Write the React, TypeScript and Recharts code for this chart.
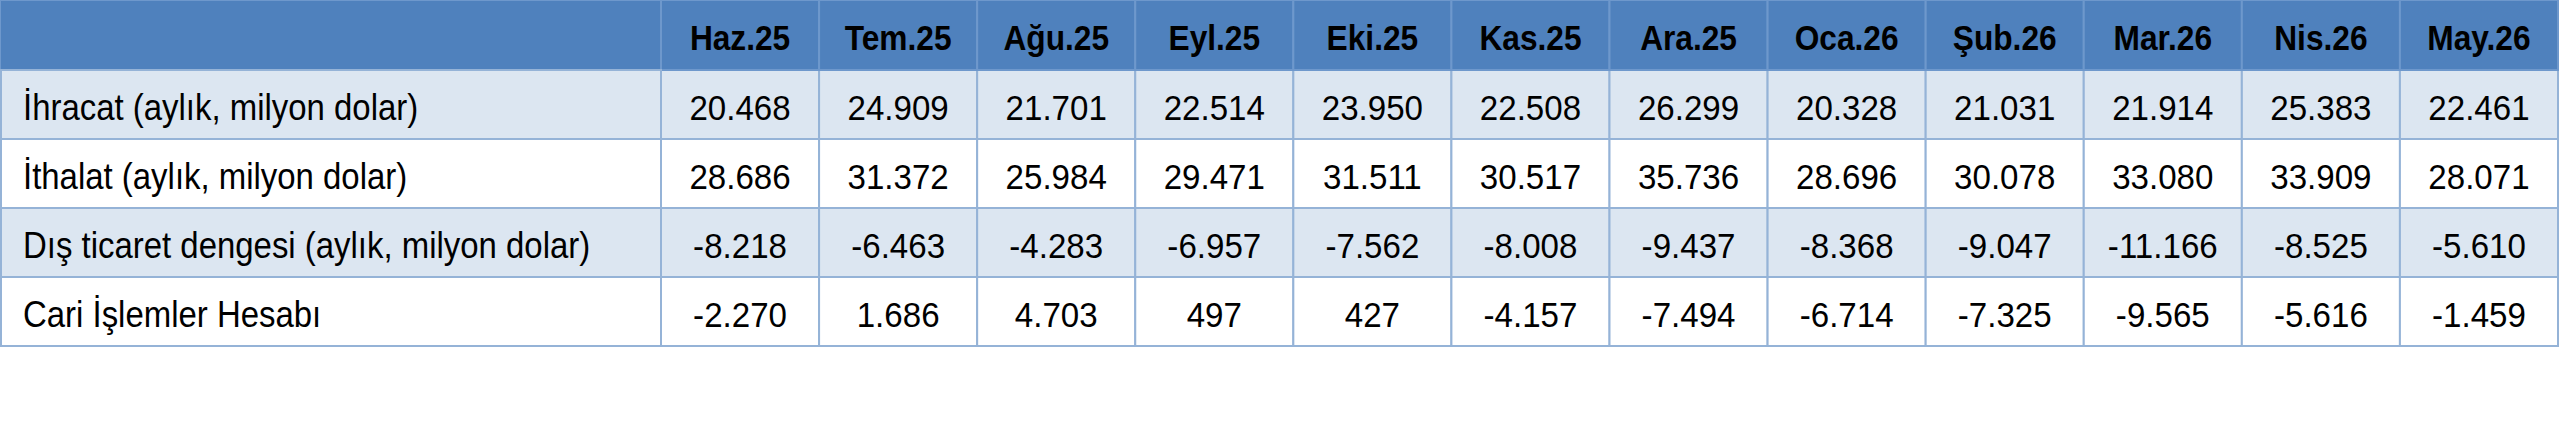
import { ScatterChart, Scatter, XAxis, YAxis } from "recharts";

const MONTHS = [
  "Haz.25", "Tem.25", "Ağu.25", "Eyl.25", "Eki.25", "Kas.25",
  "Ara.25", "Oca.26", "Şub.26", "Mar.26", "Nis.26", "May.26",
];

const ROW_LABELS = [
  "İhracat (aylık, milyon dolar)",
  "İthalat (aylık, milyon dolar)",
  "Dış ticaret dengesi (aylık, milyon dolar)",
  "Cari İşlemler Hesabı",
];

const IHRACAT = [20468, 24909, 21701, 22514, 23950, 22508, 26299, 20328, 21031, 21914, 25383, 22461];
const ITHALAT = [28686, 31372, 25984, 29471, 31511, 30517, 35736, 28696, 30078, 33080, 33909, 28071];
const DIS_TICARET = [-8218, -6463, -4283, -6957, -7562, -8008, -9437, -8368, -9047, -11166, -8525, -5610];
const CARI = [-2270, 1686, 4703, 497, 427, -4157, -7494, -6714, -7325, -9565, -5616, -1459];

const SERIES = [IHRACAT, ITHALAT, DIS_TICARET, CARI];

// layout
const WIDTH = 2560;
const HEIGHT = 446;
const HEADER_H = 70;
const LABEL_W = 661;
const MARGIN = { top: 0, right: 2, bottom: 100, left: 0 };
const COL_W = (WIDTH - LABEL_W - MARGIN.right) / MONTHS.length;
const ROW_H = (HEIGHT - HEADER_H - MARGIN.bottom) / ROW_LABELS.length;

const COLORS = {
  header: "#4F81BD",
  headerLine: "#6E98CC",
  band: "#DCE6F1",
  plain: "#FFFFFF",
  border: "#95B3D7",
  text: "#000000",
};

// dar yazı tipi yok: Liberation Sans'ı yatayda sıkıştırıyoruz
const FONT = "'Liberation Sans', Arial, sans-serif";

// Türkçe binlik ayraç
const fmt = (v: number) => {
  const s = Math.abs(v).toString().replace(/\B(?=(\d{3})+(?!\d))/g, ".");
  return (v < 0 ? "-" : "") + s;
};

const cells = ROW_LABELS.flatMap((row, r) =>
  MONTHS.map((month, m) => ({ row, month, r, value: SERIES[r][m] }))
);

const rowFill = (r: number) => (r % 2 === 0 ? COLORS.band : COLORS.plain);

const HeaderTick = ({ x, payload, index }: any) => {
  const left = x - COL_W / 2;
  return (
    <g>
      {index === 0 && (
        <rect x={0} y={0} width={left} height={HEADER_H} fill={COLORS.header} stroke={COLORS.headerLine} strokeWidth={2} />
      )}
      <rect x={left} y={0} width={COL_W} height={HEADER_H} fill={COLORS.header} stroke={COLORS.headerLine} strokeWidth={2} />
      <text
        transform={`translate(${x}, ${HEADER_H / 2 + 15}) scale(0.88, 1)`}
        textAnchor="middle"
        fontFamily={FONT}
        fontWeight="bold"
        fontSize={36}
        fill={COLORS.text}
      >
        {payload.value}
      </text>
    </g>
  );
};

const RowLabelTick = ({ y, payload }: any) => {
  const r = ROW_LABELS.indexOf(payload.value);
  return (
    <g>
      <rect x={1} y={y - ROW_H / 2} width={LABEL_W - 1} height={ROW_H} fill={rowFill(r)} stroke={COLORS.border} strokeWidth={2} />
      <text
        transform={`translate(23, ${y + 15}) scale(0.89, 1)`}
        fontFamily={FONT}
        fontSize={37}
        fill={COLORS.text}
      >
        {payload.value}
      </text>
    </g>
  );
};

const CellShape = ({ cx, cy, payload }: any) => (
  <g>
    <rect x={cx - COL_W / 2} y={cy - ROW_H / 2} width={COL_W} height={ROW_H} fill={rowFill(payload.r)} stroke={COLORS.border} strokeWidth={2} />
    <text
      transform={`translate(${cx}, ${cy + 15}) scale(0.92, 1)`}
      textAnchor="middle"
      fontFamily={FONT}
      fontSize={36}
      fill={COLORS.text}
    >
      {fmt(payload.value)}
    </text>
  </g>
);

export default function App() {
  return (
    <div style={{ position: "absolute", left: 0, top: 0, width: WIDTH, height: HEIGHT, background: "#fff" }}>
      <ScatterChart width={WIDTH} height={HEIGHT} margin={MARGIN}>
        <XAxis
          type="category"
          dataKey="month"
          orientation="top"
          height={HEADER_H}
          allowDuplicatedCategory={false}
          interval={0}
          axisLine={false}
          tickLine={false}
          tick={<HeaderTick />}
        />
        <YAxis
          type="category"
          dataKey="row"
          width={LABEL_W}
          reversed
          allowDuplicatedCategory={false}
          interval={0}
          axisLine={false}
          tickLine={false}
          tick={<RowLabelTick />}
        />
        <Scatter data={cells} shape={<CellShape />} isAnimationActive={false} />
      </ScatterChart>
    </div>
  );
}
